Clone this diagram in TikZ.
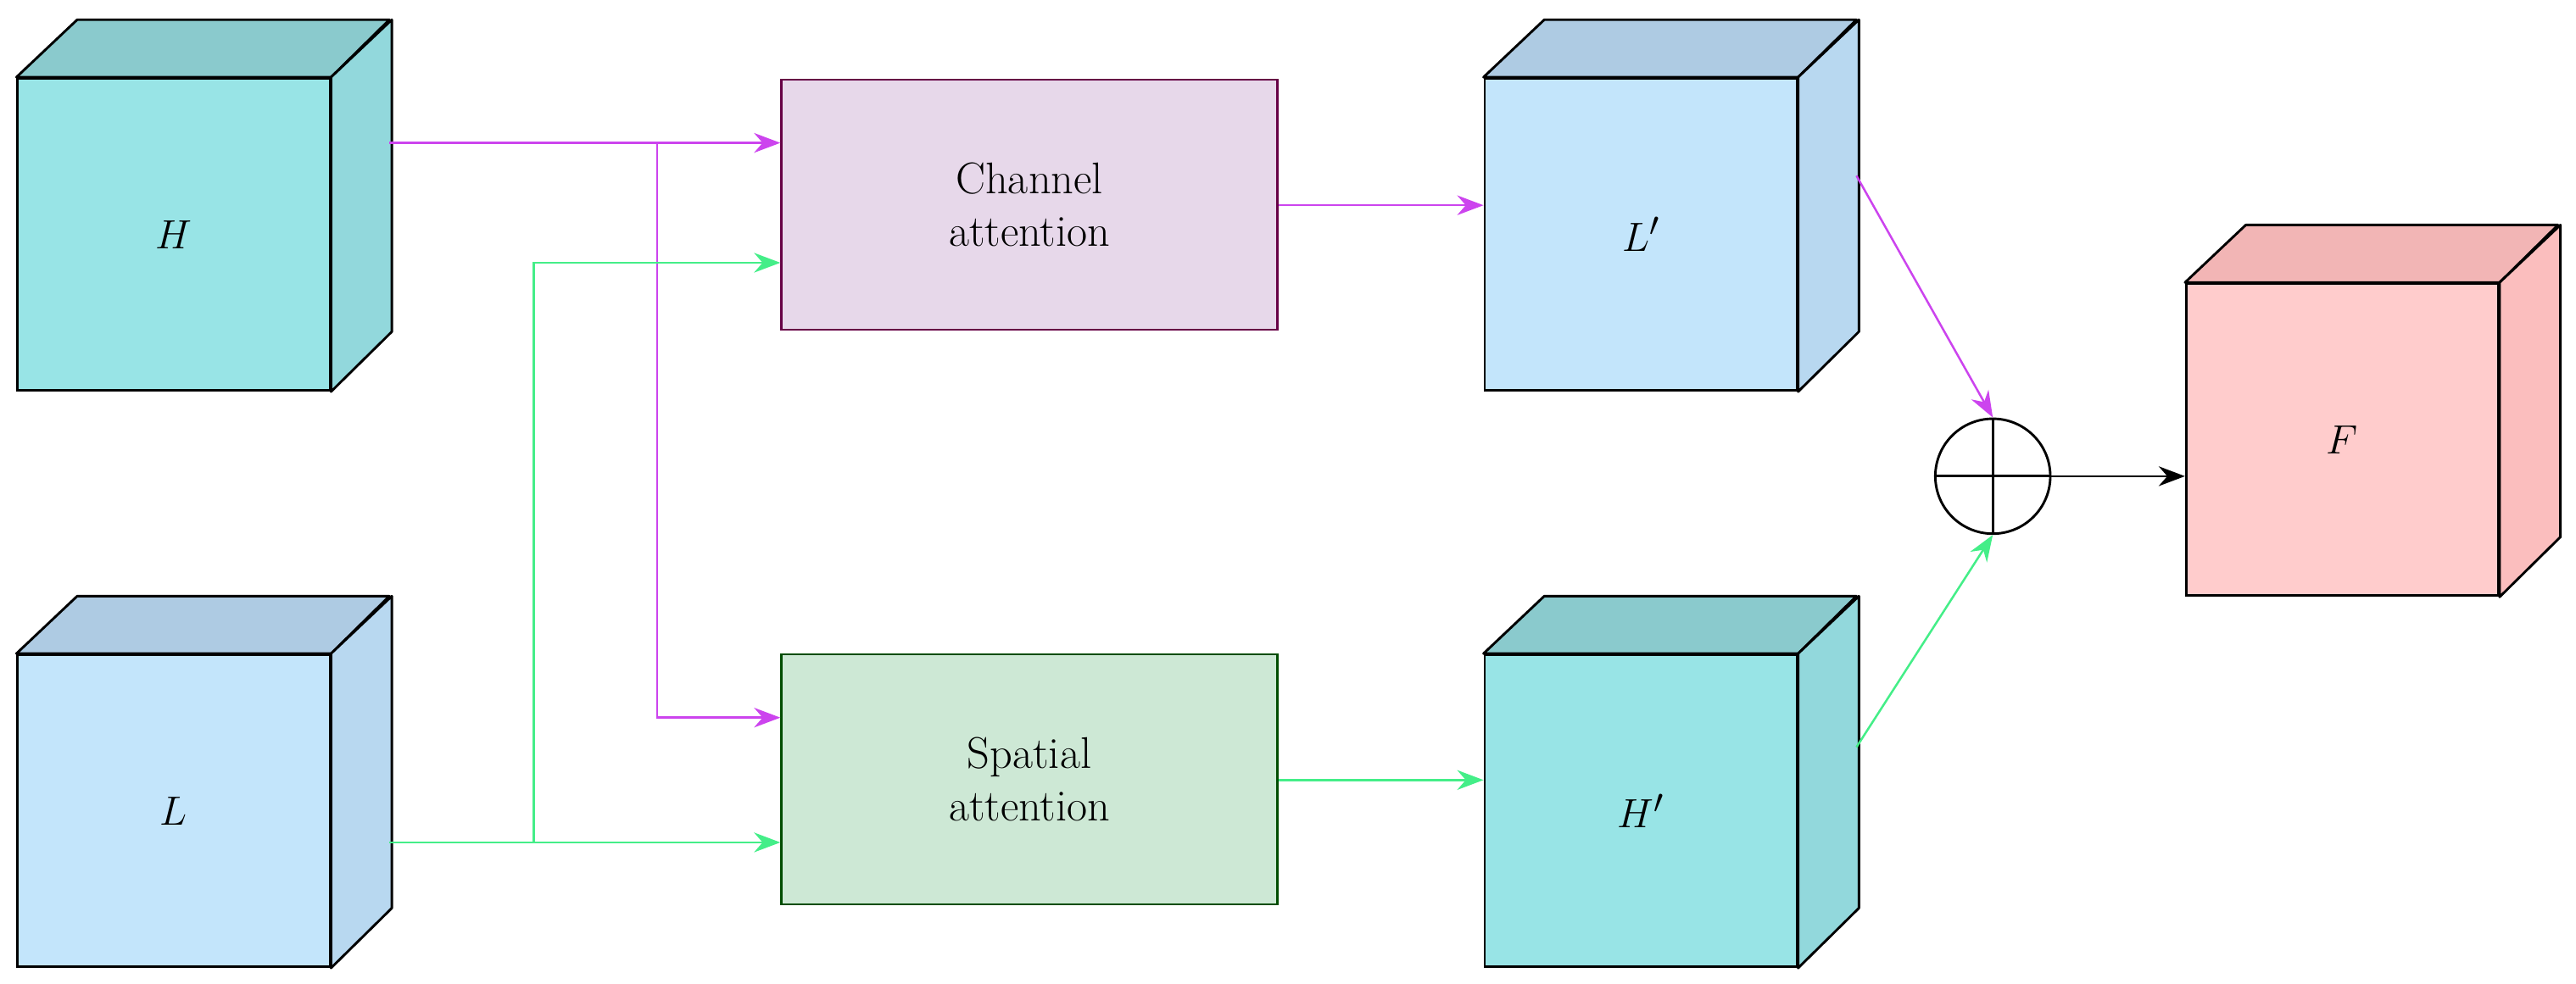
\documentclass[tikz,border=0pt]{standalone}
\usetikzlibrary{arrows.meta}
\definecolor{tealF}{HTML}{98E4E6}\definecolor{tealT}{HTML}{8ACACD}\definecolor{tealS}{HTML}{92D8DC}
\definecolor{blueF}{HTML}{C3E5FB}\definecolor{blueT}{HTML}{AECBE3}\definecolor{blueS}{HTML}{B8D8F0}
\definecolor{pinkF}{HTML}{FFCCCC}\definecolor{pinkT}{HTML}{F2B5B5}\definecolor{pinkS}{HTML}{FBBEBE}
\definecolor{mag}{HTML}{CC44EE}\definecolor{grn}{HTML}{44EE88}
\definecolor{chanF}{HTML}{E7D8EA}\definecolor{spatF}{HTML}{CDE8D5}
\newcommand{\mycube}[6]{% name, x, y(top of front), front, top, side, label
  \node[draw=black,line width=1.5pt,fill=#4,minimum width=190pt,minimum height=190pt,anchor=north west,inner sep=0pt] (#1) at (#2,#3) {};
  \fill[#5,draw=black,line width=1.5pt,line join=round] (#1.north west) -- ++(37pt,35pt) -- ++(190pt,0) -- (#1.north east) -- cycle;
  \fill[#6,draw=black,line width=1.5pt,line join=round] (#1.north east) -- ++(37pt,35pt) -- ++(0,-190pt) -- (#1.south east) -- cycle;
}
\begin{document}
\begin{tikzpicture}[x=1pt,y=-1pt,
  box/.style={draw=#1,line width=1.2pt,minimum width=302pt,minimum height=152pt,anchor=north west,align=center,font=\fontsize{27}{32}\selectfont},
  lab/.style={font=\fontsize{32}{36}\selectfont},
  arr/.style={line width=1.3pt,-{Stealth[length=16pt,width=12pt]}}]
\useasboundingbox (0,0) rectangle (1568,599);
\mycube{H}{10}{47}{tealF}{tealT}{tealS}
\mycube{L}{10}{398}{blueF}{blueT}{blueS}
\mycube{Lp}{903}{47}{blueF}{blueT}{blueS}
\mycube{Hp}{903}{398}{tealF}{tealT}{tealS}
\mycube{F}{1330}{172}{pinkF}{pinkT}{pinkS}
\node[lab] at (H) {$H$};
\node[lab] at (L) {$L$};
\node[lab] at (Lp) {$L'$};
\node[lab] at (Hp) {$H'$};
\node[lab] at (F) {$F$};
\node[box={black!55!blue!60!red},fill=chanF] (ch) at (475,48) {Channel\\attention};
\node[box=black!70!green,fill=spatF] (sp) at (475,398) {Spatial\\attention};
\node[draw=black,line width=1.5pt,circle,minimum size=70pt,inner sep=0pt] (op) at (1213,290) {};
\draw[line width=1.5pt] (op.north) -- (op.south) (op.west) -- (op.east);
\coordinate (hm) at (237,87);
\coordinate (lm) at (237,513);
\coordinate (bm) at (400,87);
\coordinate (bg) at (325,513);
\draw[arr,mag] (hm) -- (ch.west |- hm);
\draw[arr,mag] (bm) -- (400,437) -- (sp.west |- 0,437);
\draw[arr,grn] (lm) -- (sp.west |- lm);
\draw[arr,grn] (bg) -- (325,160) -- (ch.west |- 0,160);
\draw[arr,mag] (ch.east |- 0,125) -- (Lp.west |- 0,125);
\draw[arr,grn] (sp.east |- 0,475) -- (Hp.west |- 0,475);
\coordinate (lps) at (1130,107);
\coordinate (hps) at (1130,455);
\draw[arr,mag] (lps) -- (op.north);
\draw[arr,grn] (hps) -- (op.south);
\draw[arr,black] (op.east) -- (F.west |- op.east);
\end{tikzpicture}
\end{document}
